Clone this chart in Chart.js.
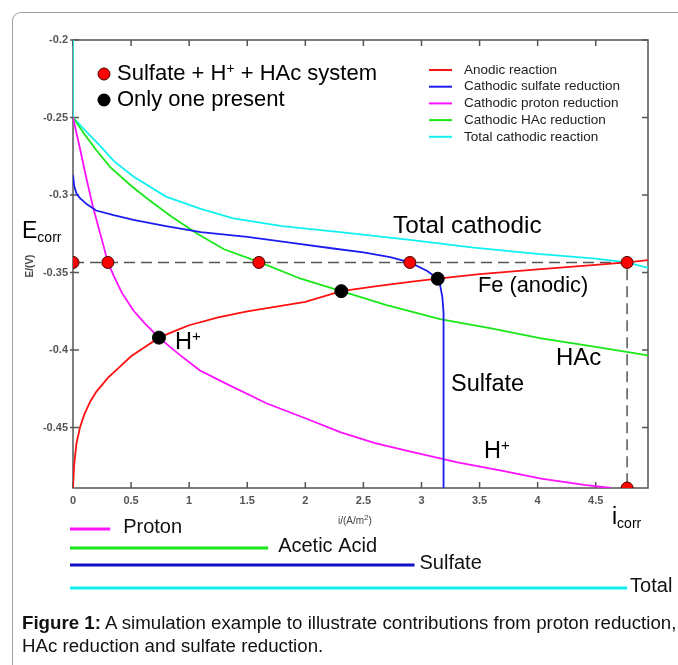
<!DOCTYPE html>
<html>
<head>
<meta charset="utf-8">
<title>Simulation example</title>
<script src="https://cdn.jsdelivr.net/npm/chart.js@4.4.0/dist/chart.umd.min.js"></script>
<style>
body { margin: 0; background: #fff; }
#wrap { position: relative; width: 678px; height: 665px; overflow: hidden; }
#frame { position: absolute; left: 12px; top: 12px; width: 720px; height: 720px;
         border-left: 1px solid #a0a0a0; border-top: 1px solid #a0a0a0; border-top-left-radius: 9px; }
#mychart { position: absolute; left: 0; top: 0; }
#cap { position: absolute; left: 22px; top: 611px; font: 18.7px "Liberation Sans", Arial, sans-serif;
       line-height: 23px; color: #111; white-space: nowrap; }
</style>
</head>
<body>
<div id="wrap">
  <div id="frame"></div>
  <canvas id="mychart" width="678" height="665"></canvas>
  <div id="cap"><b>Figure 1:</b> A simulation example to illustrate contributions from proton reduction,<br>HAc reduction and sulfate reduction.</div>
</div>
<script>
// curves: i in A/m2, E in V
const anodicI  = [0, 0.01, 0.03, 0.06, 0.1, 0.15, 0.2, 0.3, 0.4, 0.5, 0.6, 0.74, 0.9, 1.0, 1.25, 1.5, 1.75, 2.0, 2.31, 2.6, 2.9, 3.14, 3.5, 4.0, 4.5, 4.77, 4.95];
const anodicE  = [-0.489, -0.474, -0.46, -0.45, -0.441, -0.433, -0.427, -0.418, -0.411, -0.404, -0.399, -0.392, -0.387, -0.384, -0.379, -0.375, -0.372, -0.369, -0.362, -0.359, -0.356, -0.354, -0.351, -0.348, -0.345, -0.3435, -0.342];

const sulfateI = [0, 0.01, 0.03, 0.06, 0.12, 0.2, 0.35, 0.52, 0.8, 1.1, 1.5, 1.9, 2.24, 2.5, 2.73, 2.9, 3.05, 3.14, 3.16, 3.18, 3.19, 3.19];
const sulfateE = [-0.287, -0.294, -0.299, -0.302, -0.306, -0.31, -0.313, -0.316, -0.32, -0.324, -0.327, -0.331, -0.3345, -0.337, -0.34, -0.3435, -0.349, -0.354, -0.358, -0.366, -0.376, -0.489];

const protonI  = [0, 0.03, 0.06, 0.1, 0.13, 0.17, 0.22, 0.26, 0.3, 0.35, 0.42, 0.52, 0.62, 0.74, 0.9, 1.09, 1.3, 1.67, 2.0, 2.3, 2.6, 2.88, 3.31, 3.7, 4.03, 4.4, 4.63];
const protonE  = [-0.25, -0.26, -0.27, -0.284, -0.294, -0.307, -0.321, -0.332, -0.3435, -0.352, -0.363, -0.3745, -0.383, -0.392, -0.402, -0.413, -0.421, -0.4345, -0.444, -0.453, -0.46, -0.465, -0.4725, -0.478, -0.483, -0.487, -0.489];

const hacI     = [0, 0.1, 0.2, 0.32, 0.5, 0.66, 0.85, 1.07, 1.3, 1.61, 1.96, 2.31, 2.7, 3.16, 3.6, 4.03, 4.5, 4.95];
const hacE     = [-0.25, -0.261, -0.271, -0.282, -0.294, -0.3035, -0.314, -0.325, -0.335, -0.3435, -0.354, -0.362, -0.371, -0.38, -0.386, -0.3925, -0.398, -0.4035];

const totalI   = [0, 0, 0.05, 0.1, 0.23, 0.35, 0.52, 0.8, 1.1, 1.38, 1.8, 2.3, 2.9, 3.45, 4.0, 4.5, 4.77, 4.95];
const totalE   = [-0.2, -0.25, -0.254, -0.258, -0.268, -0.278, -0.288, -0.301, -0.309, -0.315, -0.32, -0.324, -0.329, -0.334, -0.338, -0.341, -0.3435, -0.347];

const ecorrI   = [0, 4.77, 4.77];
const ecorrE   = [-0.3435, -0.3435, -0.489];

const redDotI   = [0, 0.30, 1.60, 2.90, 4.77, 4.77];
const redDotE   = [-0.3435, -0.3435, -0.3435, -0.3435, -0.3435, -0.489];
const blackDotI = [0.74, 2.31, 3.14];
const blackDotE = [-0.392, -0.362, -0.354];

const curveNames  = ['Anodic reaction', 'Cathodic sulfate reduction', 'Cathodic proton reduction', 'Cathodic HAc reduction', 'Total cathodic reaction'];
const curveColors = ['#ff1010', '#1c1cf0', '#ff10ff', '#18e818', '#10f0f0'];

// contribution bars under the axis (current at Ecorr)
const barNames  = ['Proton', 'Acetic Acid', 'Sulfate', 'Total'];
const barValues = [0.32, 1.68, 2.94, 4.77];
const barColors = ['#ff10ff', '#18e818', '#1010c8', '#10f0f0'];

const xTicks = { min: 0, max: 4.95, step: 0.5 };
const yTicks = { min: -0.489, max: -0.2, step: 0.05 };

const FONT = '"Liberation Sans", Arial, Helvetica, sans-serif';

function pts(xs, ys) {
    return xs.map((x, i) => ({ x: x, y: ys[i] }));
}

const curveData = [pts(anodicI, anodicE), pts(sulfateI, sulfateE), pts(protonI, protonE), pts(hacI, hacE), pts(totalI, totalE)];

const datasets = curveData.map((d, k) => ({
    label: curveNames[k],
    data: d,
    showLine: true,
    borderColor: curveColors[k],
    borderWidth: 1.8,
    pointRadius: 0,
    order: 2
}));

datasets.push({
    label: 'Ecorr',
    data: pts(ecorrI, ecorrE),
    showLine: true,
    borderColor: '#555',
    borderWidth: 1.5,
    borderDash: [11, 6],
    pointRadius: 0,
    order: 3
});
datasets.push({
    label: 'Sulfate + H+ + HAc system',
    data: pts(redDotI, redDotE),
    showLine: false,
    pointRadius: 6,
    pointBackgroundColor: '#ff0000',
    pointBorderColor: '#400',
    pointBorderWidth: 1,
    order: 0
});
datasets.push({
    label: 'Only one present',
    data: pts(blackDotI, blackDotE),
    showLine: false,
    pointRadius: 6.5,
    pointBackgroundColor: '#000',
    pointBorderColor: '#000',
    order: 0
});

// text with sub / superscripts: parts = [text, size, dy]
function rich(ctx, parts, x, y) {
    ctx.textBaseline = 'middle';
    ctx.textAlign = 'left';
    parts.forEach(p => {
        ctx.font = p[1] + 'px ' + FONT;
        ctx.fillText(p[0], x, y + p[2]);
        x += ctx.measureText(p[0]).width;
    });
}

const frame = {
    id: 'frame',
    beforeDatasetsDraw(chart) {
        const ctx = chart.ctx, a = chart.chartArea;
        const xs = chart.scales.x, ys = chart.scales.y;
        ctx.save();
        ctx.strokeStyle = '#555';
        ctx.lineWidth = 1.5;
        ctx.strokeRect(a.left, a.top, a.right - a.left, a.bottom - a.top);
        ctx.beginPath();
        xs.ticks.forEach(t => {
            const p = xs.getPixelForValue(t.value);
            ctx.moveTo(p, a.bottom); ctx.lineTo(p, a.bottom - 6);
            ctx.moveTo(p, a.top); ctx.lineTo(p, a.top + 6);
        });
        ys.ticks.forEach(t => {
            const p = ys.getPixelForValue(t.value);
            ctx.moveTo(a.left - 3, p); ctx.lineTo(a.left + 6, p);
            ctx.moveTo(a.right, p); ctx.lineTo(a.right - 6, p);
        });
        ctx.stroke();
        ctx.restore();
    },
    afterDraw(chart) {
        const ctx = chart.ctx;
        const xs = chart.scales.x;
        ctx.save();

        // marker legend
        ctx.fillStyle = '#ff0000'; ctx.strokeStyle = '#400'; ctx.lineWidth = 1;
        ctx.beginPath(); ctx.arc(104, 74, 6, 0, Math.PI * 2); ctx.fill(); ctx.stroke();
        ctx.fillStyle = '#000';
        ctx.beginPath(); ctx.arc(104, 100, 6.5, 0, Math.PI * 2); ctx.fill();
        rich(ctx, [['Sulfate + H', 22, 0], ['+', 14, -5], [' + HAc system', 22, 0]], 117, 74);
        rich(ctx, [['Only one present', 22, 0]], 117, 100);

        // line legend
        curveNames.forEach((n, k) => {
            const y = 70 + k * 16.7;
            ctx.strokeStyle = curveColors[k]; ctx.lineWidth = 2;
            ctx.beginPath(); ctx.moveTo(429, y); ctx.lineTo(452, y); ctx.stroke();
            ctx.fillStyle = '#222';
            rich(ctx, [[n, 13.5, 0]], 464, y);
        });

        // curve labels
        ctx.fillStyle = '#000';
        rich(ctx, [['Total cathodic', 24.3, 0]], 393, 226);
        rich(ctx, [['Fe (anodic)', 21.8, 0]], 478, 286);
        rich(ctx, [['H', 23.5, 0], ['+', 15, -6]], 175, 343);
        rich(ctx, [['HAc', 24, 0]], 556, 358);
        rich(ctx, [['Sulfate', 23.5, 0]], 451, 385);
        rich(ctx, [['H', 23.5, 0], ['+', 15, -6]], 484, 452);
        rich(ctx, [['E', 23, 0], ['corr', 14, 6]], 22, 232);
        rich(ctx, [['i', 23, 0], ['corr', 14, 6]], 612, 518);

        // axis titles
        ctx.fillStyle = '#444';
        rich(ctx, [['i/(A/m', 10, 0], ['2', 8, -3], [')', 10, 0]], 338, 521);
        ctx.save();
        ctx.translate(30, 266);
        ctx.rotate(-Math.PI / 2);
        ctx.textAlign = 'center'; ctx.textBaseline = 'middle';
        ctx.font = 'bold 10px ' + FONT;
        ctx.fillText('E/(V)', 0, 0);
        ctx.restore();

        // contribution bars
        const barY = [529, 548, 565, 588];
        const gap = [13, 10, 5, 3];
        const x0 = xs.getPixelForValue(0) - 3;
        barValues.forEach((v, k) => {
            const x1 = xs.getPixelForValue(v);
            ctx.strokeStyle = barColors[k]; ctx.lineWidth = 3;
            ctx.beginPath(); ctx.moveTo(x0, barY[k]); ctx.lineTo(x1, barY[k]); ctx.stroke();
            ctx.fillStyle = '#111';
            rich(ctx, [[barNames[k], 20, 0]], x1 + gap[k], barY[k] - 2);
        });
        ctx.restore();
    }
};

const ctx1 = document.getElementById('mychart').getContext('2d');

const simChart = new Chart(ctx1,
{
    type: 'scatter',
    plugins: [frame],
    data: { datasets: datasets },
    options:
    {
        responsive: false,
        animation: false,
        layout: { padding: { left: 28, right: 30, top: 40, bottom: 0 } },
        elements: { line: { tension: 0 } },
        scales:
        {
            x:
            {
                type: 'linear',
                min: xTicks.min,
                max: xTicks.max,
                grid: { display: false, drawTicks: false },
                border: { display: false },
                ticks:
                {
                    stepSize: xTicks.step,
                    includeBounds: false,
                    padding: 6,
                    color: '#555',
                    font: { family: FONT, size: 11, weight: 'bold' },
                    callback: v => String(Math.round(v * 100) / 100)
                },
                afterFit: s => { s.height = 177; }
            },
            y:
            {
                type: 'linear',
                min: yTicks.min,
                max: yTicks.max,
                grid: { display: false, drawTicks: false },
                border: { display: false },
                ticks:
                {
                    stepSize: yTicks.step,
                    includeBounds: false,
                    padding: 5,
                    color: '#555',
                    font: { family: FONT, size: 11, weight: 'bold' },
                    callback: v => String(Math.round(v * 100) / 100)
                },
                afterFit: s => { s.width = 45; }
            }
        },
        plugins:
        {
            legend: { display: false },
            tooltip: { enabled: false }
        }
    }
});
</script>
</body>
</html>
